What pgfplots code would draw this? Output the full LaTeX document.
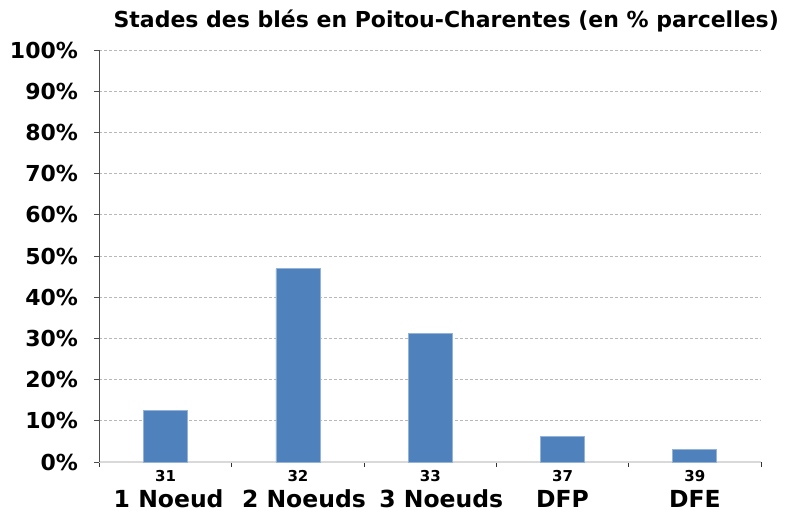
\documentclass[border=0pt]{standalone}
\usepackage{fontspec}
\setmainfont{DejaVu Sans}
\usepackage{pgfplots}
\pgfplotsset{compat=1.18}
\definecolor{barblue}{HTML}{4F81BD}
\begin{document}
\begin{tikzpicture}
\begin{axis}[
  name=ax,
  scale only axis,
  width=661.5pt, height=412pt,
  xmin=0.5, xmax=5.5, ymin=0, ymax=100,
  axis x line*=bottom, axis y line*=left,
  x axis line style={draw=black!15, line width=1.6pt},
  y axis line style={draw=black!70, line width=0.9pt},
  ytick={0,10,...,100},
  yticklabel={\pgfmathprintnumber{\tick}\%},
  /pgf/number format/assume math mode=true,
  yticklabel style={font=\fontsize{22}{24}\selectfont\bfseries, xshift=-13pt},
  ymajorgrids,
  grid style={draw=black!28, dashed, line width=0.7pt, dash pattern=on 3pt off 2pt},
  xtick={0.5,1.5,2.5,3.5,4.5,5.5},
  xticklabels={},
  x tick style={draw=black!80, line width=0.8pt},
  extra x ticks={1,2,3,4,5},
  extra x tick labels={
    {\fontsize{15}{15}\selectfont 31\\[7pt]\fontsize{23.5}{24}\selectfont\kern6pt 1 Noeud},
    {\fontsize{15}{15}\selectfont 32\\[7pt]\fontsize{23.5}{24}\selectfont\kern12pt 2 Noeuds},
    {\fontsize{15}{15}\selectfont 33\\[7pt]\fontsize{23.5}{24}\selectfont\kern22pt 3 Noeuds},
    {\fontsize{15}{15}\selectfont 37\\[7pt]\fontsize{23.5}{24}\selectfont DFP},
    {\fontsize{15}{15}\selectfont 39\\[7pt]\fontsize{23.5}{24}\selectfont DFE}},
  extra x tick style={grid=none, major tick length=0pt,
    xticklabel style={align=center, font=\bfseries, anchor=north, yshift=-5pt}},
  y tick style={draw=black!70, line width=0.8pt},
  tick align=outside, major tick length=5pt,
  title={Stades des blés en Poitou-Charentes (en \% parcelles)},
  title style={at={(0.5,1)}, anchor=base, yshift=16pt, xshift=16pt, font=\fontsize{22}{24}\selectfont\bfseries},
  clip=false,
]
\addplot[ybar, bar width=44pt, fill=barblue, draw=barblue!60!white, line width=0.8pt]
  coordinates {(1,12.5) (2,46.875) (3,31.25) (4,6.25) (5,3.125)};
\end{axis}
\path ([xshift=-99.5pt,yshift=-51pt]ax.south west) rectangle ([xshift=27pt,yshift=50pt]ax.north east);
\end{tikzpicture}
\end{document}
